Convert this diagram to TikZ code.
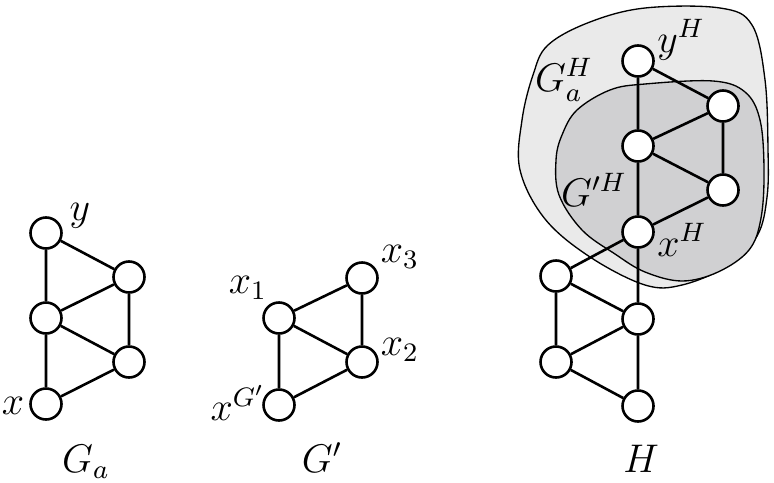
\documentclass[tikz,border=0pt]{standalone}
\begin{document}
\begin{tikzpicture}[x=0.3pt,y=-0.3pt,
  vert/.style={circle,draw,fill=white,line width=0.78pt,minimum size=9.3pt,inner sep=0pt},
  edge/.style={line width=0.78pt},
  lab/.style={inner sep=0pt,font=\large},
  blobline/.style={line width=0.4pt}]
\useasboundingbox (0,0) rectangle (774,482);
% blobs
\draw[blobline,fill={rgb,255:red,234;green,234;blue,234}] plot[smooth cycle,tension=0.6] coordinates {
 (548,45) (590,22) (645,8) (720,8) (752,25) (765,80) (768,150) (767,197) (757,236) (727,266) (682,285) (645,285) (590,257) (545,219) (520,170) (522,120) (533,75)};
\draw[blobline,fill={rgb,255:red,208;green,208;blue,210}] plot[smooth cycle,tension=0.6] coordinates {
 (577,110) (610,90) (645,84) (713,81) (745,92) (760,120) (764,170) (761,218) (749,250) (718,272) (682,281) (645,272) (615,254) (582,230) (559,195) (556,160) (562,135)};
% G_a
\node[vert] (ay) at (46,233) {};
\node[vert] (ar1) at (129,277) {};
\node[vert] (am) at (46,318) {};
\node[vert] (ar2) at (129,362) {};
\node[vert] (ax) at (46,404) {};
\draw[edge] (ay)--(ar1) (ay)--(am) (ar1)--(am) (ar1)--(ar2) (am)--(ar2) (am)--(ax) (ar2)--(ax);
\node[lab] (ly) at (80,216) {$y$};
\node[lab] (lx) at (13,406) {$x$};
\node[lab,anchor=base] (lGa) at (86,472) {$G_a$};
% G'
\node[vert] (x3) at (362,278) {};
\node[vert] (x1) at (279,318) {};
\node[vert] (x2) at (362,362) {};
\node[vert] (xg) at (279,405) {};
\draw[edge] (x1)--(x3) (x1)--(x2) (x3)--(x2) (x1)--(xg) (xg)--(x2);
\node[lab] (lx3) at (400,257) {$x_3$};
\node[lab] (lx1) at (248,288) {$x_1$};
\node[lab] (lx2) at (400,350) {$x_2$};
\node[lab] (lxg) at (238,403) {$x^{G'}$};
\node[lab,anchor=base] (lGp) at (322,472) {$G'$};
% H
\node[vert] (hy) at (638,61) {};
\node[vert] (h1) at (723,106) {};
\node[vert] (h2) at (638,146) {};
\node[vert] (h3) at (723,190) {};
\node[vert] (hx) at (638,232) {};
\node[vert] (h4) at (556,276) {};
\node[vert] (h5) at (638,319) {};
\node[vert] (h6) at (556,362) {};
\node[vert] (h7) at (638,406) {};
\draw[edge] (hy)--(h1) (hy)--(h2) (h1)--(h2) (h1)--(h3) (h2)--(h3) (h2)--(hx) (h3)--(hx)
  (hx)--(h4) (hx)--(h5) (h4)--(h5) (h4)--(h6) (h5)--(h6) (h5)--(h7) (h6)--(h7);
\node[lab] (lhy) at (681,40) {$y^H$};
\node[lab] (lhx) at (682,240) {$x^H$};
\node[lab] (lGaH) at (564,80) {$G_a^H$};
\node[lab] (lGpH) at (594,190) {$G'^H$};
\node[lab,anchor=base] (lH) at (641,472) {$H$};
\end{tikzpicture}
\end{document}
